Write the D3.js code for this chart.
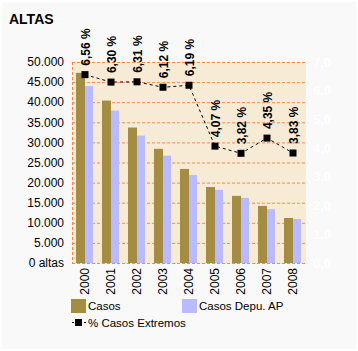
<html>
<head>
<title>Altas</title>
<script type="text/javascript" src="https://d3js.org/d3.v7.min.js"></script>
<style>
  body { margin: 0; background: #ffffff; }
  text { font-family: "Liberation Sans", Arial, sans-serif; }
</style>
</head>
<body>
<script type="text/javascript">
  var years = ["2000","2001","2002","2003","2004","2005","2006","2007","2008"];
  var casos = [47300, 40400, 33700, 28400, 23400, 18900, 16700, 14200, 11200];
  var casosDepu = [44000, 37900, 31700, 26700, 21900, 18200, 16200, 13400, 10950];
  var pctExtremos = [6.56, 6.30, 6.31, 6.12, 6.19, 4.07, 3.82, 4.35, 3.83];
  var leftTicks = [0, 5000, 10000, 15000, 20000, 25000, 30000, 35000, 40000, 45000, 50000];
  var rightTicks = [0, 1, 2, 3, 4, 5, 6, 7];

  var width = 358, height = 351;
  var plotL = 72, plotR = 306, plotT = 62, plotB = 263;

  var fmtInt = d3.formatLocale({decimal: ",", thousands: ".", grouping: [3]}).format(",d");
  var fmt1 = function(d){ return d.toFixed(1).replace(".", ","); };
  var fmt2 = function(d){ return d.toFixed(2).replace(".", ",") + " %"; };

  var x = d3.scaleBand().domain(years).range([plotL, plotR]);
  var yL = d3.scaleLinear().domain([0, 50000]).range([plotB, plotT]);
  var yR = d3.scaleLinear().domain([0, 7]).range([plotB, plotT]);

  var svg = d3.select("body").append("svg")
              .attr("width", width).attr("height", height);

  svg.append("rect").attr("x", 2).attr("y", 2).attr("width", 354).attr("height", 347)
     .attr("fill", "#f9f9f9");

  svg.append("text").attr("x", 9).attr("y", 24)
     .style("font-size", "14px").style("font-weight", "bold").text("ALTAS");

  // plot background
  svg.append("rect").attr("x", plotL).attr("y", plotT)
     .attr("width", plotR - plotL).attr("height", plotB - plotT)
     .attr("fill", "#f7ebd5");

  // grid lines
  svg.selectAll(".grid").data(leftTicks).enter().append("line")
     .attr("x1", plotL).attr("x2", plotR)
     .attr("y1", function(d){ return yL(d) + 0.5; })
     .attr("y2", function(d){ return yL(d) + 0.5; })
     .attr("stroke", "#f98a4e").attr("stroke-width", 1)
     .attr("stroke-dasharray", "3,2");
  svg.append("line").attr("x1", plotL + 0.5).attr("x2", plotL + 0.5)
     .attr("y1", plotT).attr("y2", plotB)
     .attr("stroke", "#f98a4e").attr("stroke-dasharray", "3,2");

  // left axis labels
  svg.selectAll(".ltick").data(leftTicks).enter().append("text")
     .attr("x", 64).attr("y", function(d){ return yL(d); })
     .attr("dy", "0.35em").attr("text-anchor", "end")
     .style("font-size", "12px")
     .text(function(d){ return d === 0 ? "0 altas" : fmtInt(d); });

  // right axis labels
  svg.selectAll(".rtick").data(rightTicks).enter().append("text")
     .attr("x", 313).attr("y", function(d){ return yR(d); })
     .attr("dy", "0.35em")
     .style("font-size", "13px").style("font-weight", "bold")
     .attr("fill", "#ffffff")
     .text(fmt1);

  // bars
  var bw = 9, off = 4;
  svg.selectAll(".b1").data(casos).enter().append("rect")
     .attr("x", function(d, i){ return x(years[i]) + off; })
     .attr("y", function(d){ return yL(d); })
     .attr("width", bw)
     .attr("height", function(d){ return plotB - yL(d); })
     .attr("fill", "#a58c43");
  svg.selectAll(".b2").data(casosDepu).enter().append("rect")
     .attr("x", function(d, i){ return x(years[i]) + off + bw; })
     .attr("y", function(d){ return yL(d); })
     .attr("width", bw - 1)
     .attr("height", function(d){ return plotB - yL(d); })
     .attr("fill", "#babaff");

  // line
  var cx = function(i){ return x(years[i]) + x.bandwidth() / 2; };
  var line = d3.line()
               .x(function(d, i){ return cx(i); })
               .y(function(d){ return yR(d); });
  svg.append("path").datum(pctExtremos).attr("d", line)
     .attr("fill", "none").attr("stroke", "#000").attr("stroke-width", 1)
     .attr("stroke-dasharray", "3,3");
  svg.selectAll(".mk").data(pctExtremos).enter().append("rect")
     .attr("x", function(d, i){ return cx(i) - 3.5; })
     .attr("y", function(d){ return yR(d) - 3.5; })
     .attr("width", 7).attr("height", 7).attr("fill", "#000");

  // value labels
  svg.selectAll(".vl").data(pctExtremos).enter().append("text")
     .attr("transform", function(d, i){
       return "translate(" + (cx(i) + 1) + "," + (yR(d) - 9) + ") rotate(-90)";
     })
     .attr("dy", "0.35em")
     .style("font-size", "12px").style("font-weight", "bold")
     .text(fmt2);

  // x labels
  svg.selectAll(".xl").data(years).enter().append("text")
     .attr("transform", function(d){
       return "translate(" + (x(d) + x.bandwidth() / 2) + ",268) rotate(-90)";
     })
     .attr("dy", "0.35em").attr("text-anchor", "end")
     .style("font-size", "12px")
     .text(function(d){ return d; });

  // legend
  svg.append("rect").attr("x", 71).attr("y", 299).attr("width", 15).attr("height", 14)
     .attr("fill", "#a58c43");
  svg.append("text").attr("x", 88).attr("y", 310).style("font-size", "11.5px").text("Casos");
  svg.append("rect").attr("x", 182).attr("y", 299).attr("width", 15).attr("height", 14)
     .attr("fill", "#babaff");
  svg.append("text").attr("x", 199).attr("y", 310).style("font-size", "11.5px").text("Casos Depu. AP");
  svg.append("line").attr("x1", 72).attr("x2", 87).attr("y1", 322.5).attr("y2", 322.5)
     .attr("stroke", "#000").attr("stroke-dasharray", "2,2");
  svg.append("rect").attr("x", 75).attr("y", 319).attr("width", 7).attr("height", 7).attr("fill", "#000");
  svg.append("text").attr("x", 88).attr("y", 327).style("font-size", "11.5px").text("% Casos Extremos");
</script>
</body>
</html>
